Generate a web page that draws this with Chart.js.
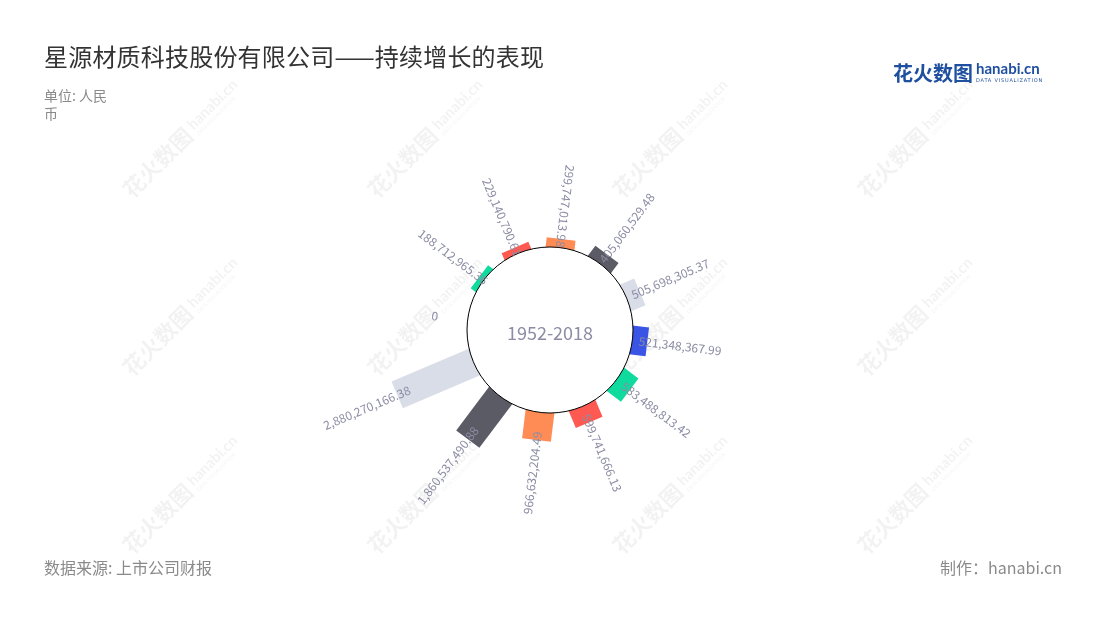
<!DOCTYPE html>
<html>
<head>
<meta charset="utf-8">
<script src="https://cdn.jsdelivr.net/npm/chart.js@4.4.1/dist/chart.umd.min.js"></script>
<style>
    body { margin: 0; background: #fff; font-family: "Noto Sans CJK SC", "Noto Sans", sans-serif; }
    #page { position: relative; width: 1100px; height: 620px; overflow: hidden; }
    #chart { position: absolute; left: 0; top: 0; }
    .title { position: absolute; left: 44px; top: 38px; font-size: 24px; color: #333; letter-spacing: 0.2px; }
    .unit { position: absolute; left: 44px; top: 86px; font-size: 14px; line-height: 18px; color: #8a8a8a; }
    .source { position: absolute; left: 44px; top: 555px; font-size: 16px; color: #8a8a8a; }
    .maker { position: absolute; right: 38px; top: 555px; font-size: 16px; color: #8a8a8a; }
    .logo { position: absolute; left: 893px; top: 58px; color: #1f4f9f; }
    .logo .cn { font-size: 20px; font-weight: bold; letter-spacing: 0px; vertical-align: top; }
    .logo .en { display: inline-block; vertical-align: top; margin-left: 3px; }
    .logo .en b { display: block; font-family: "Lato", sans-serif; font-size: 15px; line-height: 17px; margin-top: 2px; }
    .logo .en i { display: block; font-style: normal; font-size: 5px; line-height: 6px; letter-spacing: 0.8px; font-family: "DejaVu Sans", sans-serif; }
</style>
</head>
<body>
<div id="page">
    <canvas id="chart" width="1100" height="620"></canvas>
    <div class="title">星源材质科技股份有限公司——持续增长的表现</div>
    <div class="unit">单位: 人民<br>币</div>
    <div class="source">数据来源: 上市公司财报</div>
    <div class="maker">制作：hanabi.cn</div>
    <div class="logo"><span class="cn">花火数图</span><span class="en"><b>hanabi.cn</b><i>DATA VISUALIZATION</i></span></div>
</div>
<script>
// data, sorted ascending clockwise
const categories = ["2007", "2008", "2009", "2010", "2011", "2012", "2013", "2014", "2015", "2016", "2017", "2018"];
const values = [0, 188712965.36, 229140790.61, 299747013.98, 405060529.48, 505698305.37,
    521348367.99, 583488813.42, 599741666.13, 966632204.49, 1860537490.88, 2880270166.38];
const barColors = ["#3a54e6", "#0fdb9f", "#ff5a51", "#ff8c55", "#5b5b66", "#d9dde8"];
const centerLabel = "1952-2018";

const maxVal = Math.max(...values);
const barWidth = 29;
const labelGap = 33;
const labelColor = "#8c8ca4";

function fmt(v) {
    if (v === 0) return "0";
    return v.toLocaleString("en-US", { minimumFractionDigits: 2, maximumFractionDigits: 2 });
}

function drawWatermarks(ctx) {
    ctx.save();
    for (let row = 0; row < 3; row++) {
        for (let col = 0; col < 4; col++) {
            const x = 190 + col * 245;
            const y = 130 + row * 178;
            ctx.save();
            ctx.translate(x, y);
            ctx.rotate(-Math.PI / 4);
            ctx.fillStyle = "rgba(0,0,0,0.05)";
            ctx.textBaseline = "middle";
            ctx.font = "bold 22px 'Noto Sans CJK SC'";
            ctx.fillText("花火数图", -90, 0);
            ctx.font = "bold 15px Lato";
            ctx.fillText("hanabi.cn", 2, -2);
            ctx.font = "5px 'DejaVu Sans'";
            ctx.fillText("DATA VISUALIZATION", 2, 9);
            ctx.restore();
        }
    }
    ctx.restore();
}

const radialBars = {
    id: "radialBars",
    beforeDraw(chart) {
        drawWatermarks(chart.ctx);
    },
    afterDatasetsDraw(chart) {
        const ctx = chart.ctx;
        const scale = chart.scales.r;
        const meta = chart.getDatasetMeta(0);
        const cx = scale.xCenter, cy = scale.yCenter;
        const r0 = scale.getDistanceFromCenterForValue(0);

        // bars (start under the hole so the circle trims them)
        meta.data.forEach((arc, i) => {
            const p = arc.getProps(["startAngle", "endAngle", "outerRadius"], true);
            if (p.outerRadius <= r0) return;
            const mid = (p.startAngle + p.endAngle) / 2;
            ctx.save();
            ctx.translate(cx, cy);
            ctx.rotate(mid);
            ctx.fillStyle = barColors[i % barColors.length];
            ctx.fillRect(r0 - 10, -barWidth / 2, p.outerRadius - r0 + 10, barWidth);
            ctx.restore();
        });

        // hole
        ctx.save();
        ctx.beginPath();
        ctx.arc(cx, cy, r0, 0, Math.PI * 2);
        ctx.fillStyle = "#fff";
        ctx.fill();
        ctx.lineWidth = 1;
        ctx.strokeStyle = "#000";
        ctx.stroke();
        ctx.fillStyle = labelColor;
        ctx.font = "18px 'Noto Sans CJK SC'";
        ctx.textAlign = "center";
        ctx.textBaseline = "middle";
        ctx.fillText(centerLabel, cx, cy + 3);
        ctx.restore();

        // value labels
        meta.data.forEach((arc, i) => {
            const p = arc.getProps(["startAngle", "endAngle", "outerRadius"], true);
            const mid = (p.startAngle + p.endAngle) / 2;
            const rText = p.outerRadius + labelGap;
            const outward = Math.sin(mid + Math.PI / 2) > 0.2;
            ctx.save();
            ctx.translate(cx + rText * Math.cos(mid), cy + rText * Math.sin(mid));
            ctx.rotate(outward ? mid : mid + Math.PI);
            ctx.fillStyle = labelColor;
            ctx.font = "12px 'Noto Sans CJK SC'";
            ctx.textAlign = "center";
            ctx.textBaseline = "middle";
            ctx.fillText(fmt(values[i]), 0, 0);
            ctx.restore();
        });
    }
};

new Chart(document.getElementById("chart"), {
    type: "polarArea",
    data: {
        labels: categories,
        datasets: [{
            data: values,
            backgroundColor: "rgba(0,0,0,0)",
            borderWidth: 0
        }]
    },
    options: {
        responsive: false,
        animation: false,
        layout: { padding: { left: 384, right: 384, top: 164, bottom: 124 } },
        plugins: {
            legend: { display: false },
            tooltip: { enabled: false }
        },
        scales: {
            r: {
                display: false,
                min: -maxVal,
                max: maxVal,
                bounds: "data",
                startAngle: 262
            }
        }
    },
    plugins: [radialBars]
});
</script>
</body>
</html>
